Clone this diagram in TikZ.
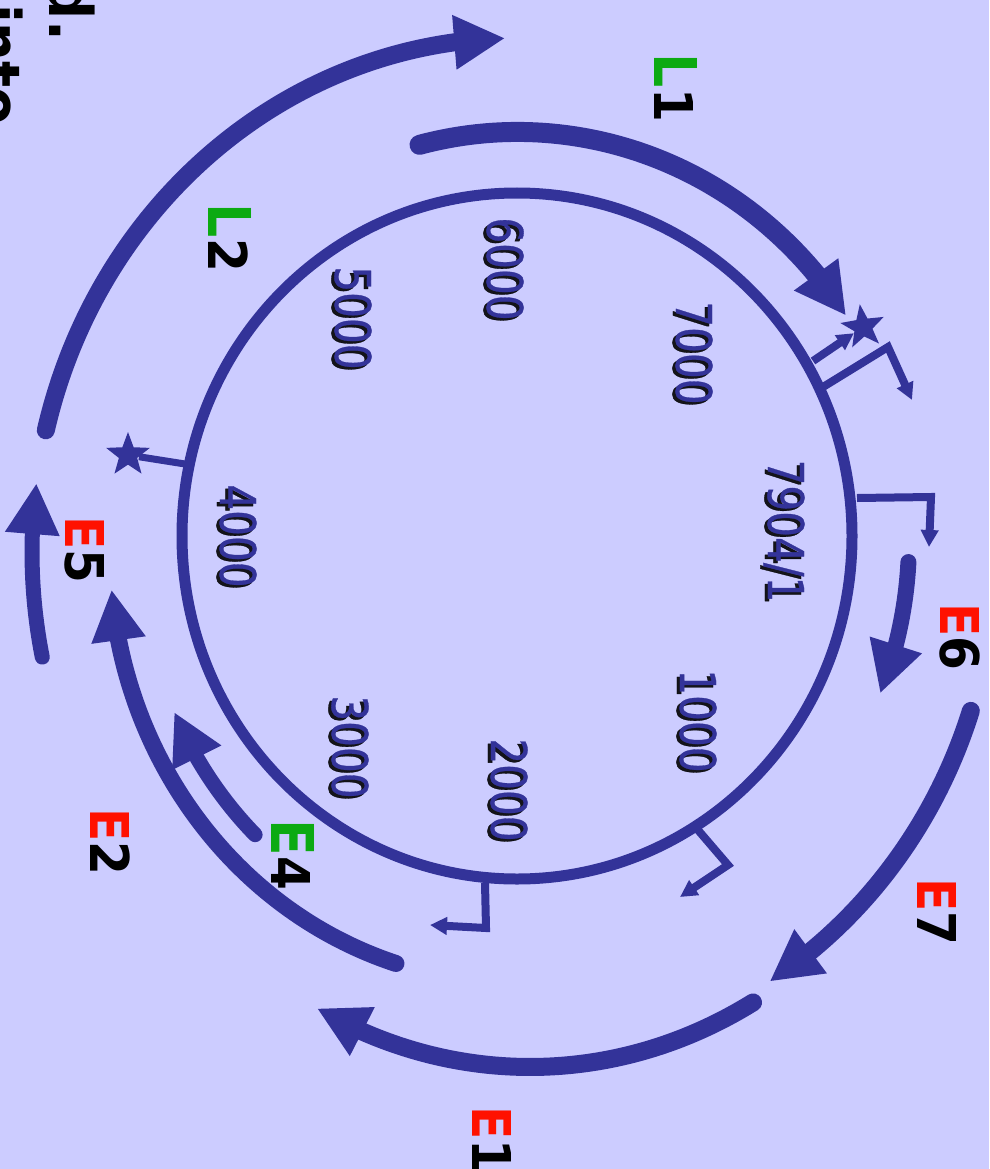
\documentclass[tikz,border=0pt]{standalone}
\usepackage{fontspec}
\setmainfont{DejaVu Sans}
\newfontfamily\numfont{DejaVu Sans}[FakeStretch=0.82, FakeBold=0.6]
\newfontfamily\labfont{DejaVu Sans}[FakeStretch=0.91]
\usetikzlibrary{arrows.meta,bending,shapes.geometric}
\definecolor{bglilac}{RGB}{204,204,255}
\definecolor{mapblue}{RGB}{51,51,153}
\definecolor{exred}{RGB}{255,17,0}
\definecolor{exgreen}{RGB}{12,170,18}

\begin{document}
\begin{tikzpicture}[
  x=1pt, y=-1pt,
  plasmid/.style={draw=mapblue, line width=11pt},
  orf/.style={draw=mapblue, line width=18pt, line cap=round, -{Triangle[length=51pt, width=51pt]}},
  promoter/.style={draw=mapblue, line width=8pt, -{Triangle[length=17pt, width=17pt]}},
  bpnum/.style={font=\numfont\fontsize{49.5}{50}\selectfont, text=mapblue, rotate=-90, inner sep=0pt},
  bpshadow/.style={bpnum, text=black, opacity=0.9},
  genelabel/.style={font=\labfont\bfseries\fontsize{53.5}{54}\selectfont, rotate=-90, inner sep=0pt},
  sitestar/.style={star, star points=5, star point ratio=2.4, fill=mapblue, inner sep=0pt, minimum size=46pt}
]
\useasboundingbox (0,0) rectangle (989,1169);
\fill[bglilac] (0,0) rectangle (989,1169);
\clip (0,0) rectangle (989,1169);

% Text cut off at the page edge
\node[genelabel, font=\labfont\bfseries\fontsize{60}{60}\selectfont, anchor=base east] (fragd) at (49,41) {d.};
\node[genelabel, font=\labfont\bfseries\fontsize{60}{60}\selectfont, anchor=base west] (fraginto) at (-23,4) {into};

% Draw plasmid circle
\draw[plasmid] (517,536) ellipse [x radius=335, y radius=343];

% Draw late transcripts
\draw[orf, line width=20pt] (517,540) ++(-104.4:392 and 408) arc[start angle=-104.4, end angle=-33.5, x radius=394, y radius=410];
\draw[orf] (517,552) ++(193.7:485 and 514) arc[start angle=193.7, end angle=268.6, x radius=485, y radius=514];

% Draw early transcripts
\draw[orf, line width=16pt] (517,540) ++(3.1:392 and 408) arc[start angle=3.1, end angle=22.1, x radius=392, y radius=408];
\draw[orf] (517,552) ++(18.3:478 and 506) arc[start angle=18.3, end angle=58.1, x radius=478, y radius=506];
\draw[orf] (530,552) ++(61:460 and 515) arc[start angle=61, end angle=117.6, x radius=460, y radius=515];
\draw[orf, line width=17pt] (517,552) ++(107.3:407 and 431) arc[start angle=107.3, end angle=175, x radius=407, y radius=431];
\draw[orf, line width=15pt] (517,552) ++(134.3:375 and 395) arc[start angle=134.3, end angle=156.1, x radius=375, y radius=395];
\draw[orf, line width=15pt] (517,552) ++(168.2:485 and 514) arc[start angle=168.2, end angle=187.7, x radius=485, y radius=514];

% Draw promoters
\coordinate (p1a) at (823,387); \coordinate (p1b) at (888,347); \coordinate (p1c) at (912,400);
\draw[promoter] (p1a) -- (p1b) -- (p1c);
\coordinate (p2a) at (857,498); \coordinate (p2b) at (931,497); \coordinate (p2c) at (929,547);
\draw[promoter] (p2a) -- (p2b) -- (p2c);
\coordinate (p3a) at (698,830); \coordinate (p3b) at (728,865); \coordinate (p3c) at (680,897);
\draw[promoter] (p3a) -- (p3b) -- (p3c);
\coordinate (p4a) at (485,883); \coordinate (p4b) at (486,928); \coordinate (p4c) at (430,925);
\draw[promoter] (p4a) -- (p4b) -- (p4c);

% Draw polyadenylation sites
\node[sitestar, rotate=8] (starR) at (863,327) {};
\coordinate (s1) at (813,361);
\draw[promoter] (s1) -- (starR);
\node[sitestar] (starL) at (128,455) {};
\coordinate (s2) at (185,464);
\draw[draw=mapblue, line width=7pt] (s2) -- (starL);

% Draw map positions
\node[bpshadow] (s6000) at (502,271.5) {6000};
\node[bpnum] (n6000) at (505,269) {6000};
\node[bpshadow] (s7000) at (691,355.5) {7000};
\node[bpnum] (n7000) at (694,353) {7000};
\node[bpshadow] (s7904) at (781,533.5) {7904/1};
\node[bpnum] (n7904) at (784,531) {7904/1};
\node[bpshadow] (s1000) at (695,723.5) {1000};
\node[bpnum] (n1000) at (698,721) {1000};
\node[bpshadow] (s2000) at (506,792.5) {2000};
\node[bpnum] (n2000) at (509,790) {2000};
\node[bpshadow] (s3000) at (347,749.5) {3000};
\node[bpnum] (n3000) at (350,747) {3000};
\node[bpshadow] (s4000) at (235,538.5) {4000};
\node[bpnum] (n4000) at (238,536) {4000};
\node[bpshadow] (s5000) at (350,320.5) {5000};
\node[bpnum] (n5000) at (353,318) {5000};

% Draw gene labels
\node[genelabel] (lL1) at (676,88) {{\color{exgreen}\fontsize{59}{59}\selectfont L}1};
\node[genelabel] (lL2) at (230,238) {{\color{exgreen}\fontsize{59}{59}\selectfont L}2};
\node[genelabel] (lE6) at (960,637) {{\color{exred}E}6};
\node[genelabel] (lE7) at (937,912) {{\color{exred}E}7};
\node[genelabel] (lE1) at (492,1140) {{\color{exred}E}1};
\node[genelabel] (lE2) at (110,842) {{\color{exred}E}2};
\node[genelabel] (lE4) at (293,855) {{\color{exgreen}\fontsize{59}{59}\selectfont E}4};
\node[genelabel] (lE5) at (85,550) {{\color{exred}E}5};

\end{tikzpicture}
\end{document}
